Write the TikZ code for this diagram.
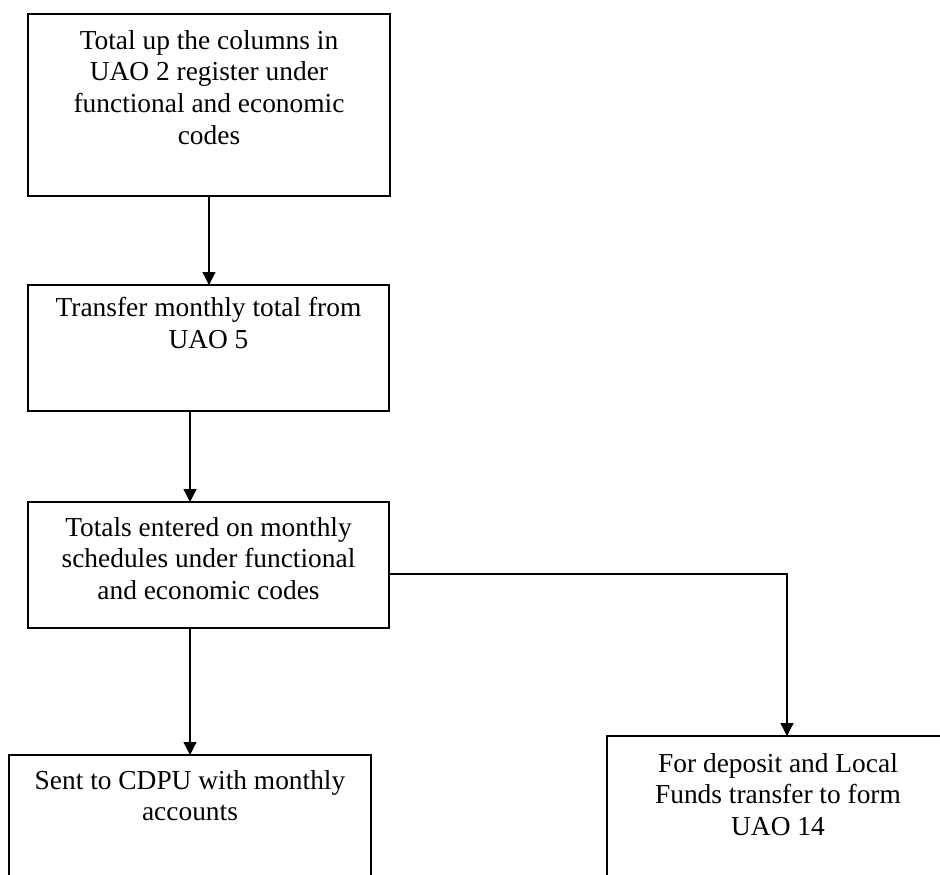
\documentclass[tikz,border=0pt]{standalone}
\usepackage{fontspec}
\setmainfont{Liberation Serif}
\usetikzlibrary{arrows.meta,calc}
\begin{document}
\begin{tikzpicture}[x=1pt,y=-1pt,
  box/.style={draw=black, line width=1.6pt, inner sep=0pt, outer sep=0pt},
  boxtext/.style={anchor=north, inner sep=0pt, align=center,
    font=\fontsize{27.4}{31.6}\selectfont,
    execute at begin node=\rule{0pt}{20pt}},
  flow/.style={line width=1.3pt, -{Triangle[length=13pt,width=13pt]}}
]
\useasboundingbox (0,0) rectangle (940,875);
\clip (0,0) rectangle (940,875);

% process boxes
\node[box, minimum width=362pt, minimum height=182pt] (b1) at (209,105) {};
\node[box, minimum width=361pt, minimum height=126pt] (b2) at (208.5,348) {};
\node[box, minimum width=361pt, minimum height=126pt] (b3) at (208.5,565) {};
\node[box, minimum width=362pt, minimum height=160pt] (b4) at (190,835) {};
\node[box, minimum width=342pt, minimum height=179pt] (b5) at (778,825.5) {};

% box texts
\node[boxtext] (t1) at ($(b1.north)+(0,16)$) {Total up the columns in\\UAO 2 register under\\functional and economic\\codes};
\node[boxtext] (t2) at ($(b2.north)+(0,12)$) {Transfer monthly total from\\UAO 5};
\node[boxtext] (t3) at ($(b3.north)+(0,15)$) {Totals entered on monthly\\schedules under functional\\and economic codes};
\node[boxtext] (t4) at ($(b4.north)+(0,15)$) {Sent to CDPU with monthly\\accounts};
\node[boxtext] (t5) at ($(b5.north)+(0,17)$) {For deposit and Local\\Funds transfer to form\\UAO 14};

% connectors
\draw[flow] (b1.south) -- (b1.south |- b2.north);
\draw[flow] (b2.south -| b4.north) -- (b3.north -| b4.north);
\draw[flow] (b3.south -| b4.north) -- (b4.north);
\coordinate (bend) at (787,574);
\draw[flow] (b3.east |- bend) -- (bend) -- (bend |- b5.north);
\end{tikzpicture}
\end{document}
